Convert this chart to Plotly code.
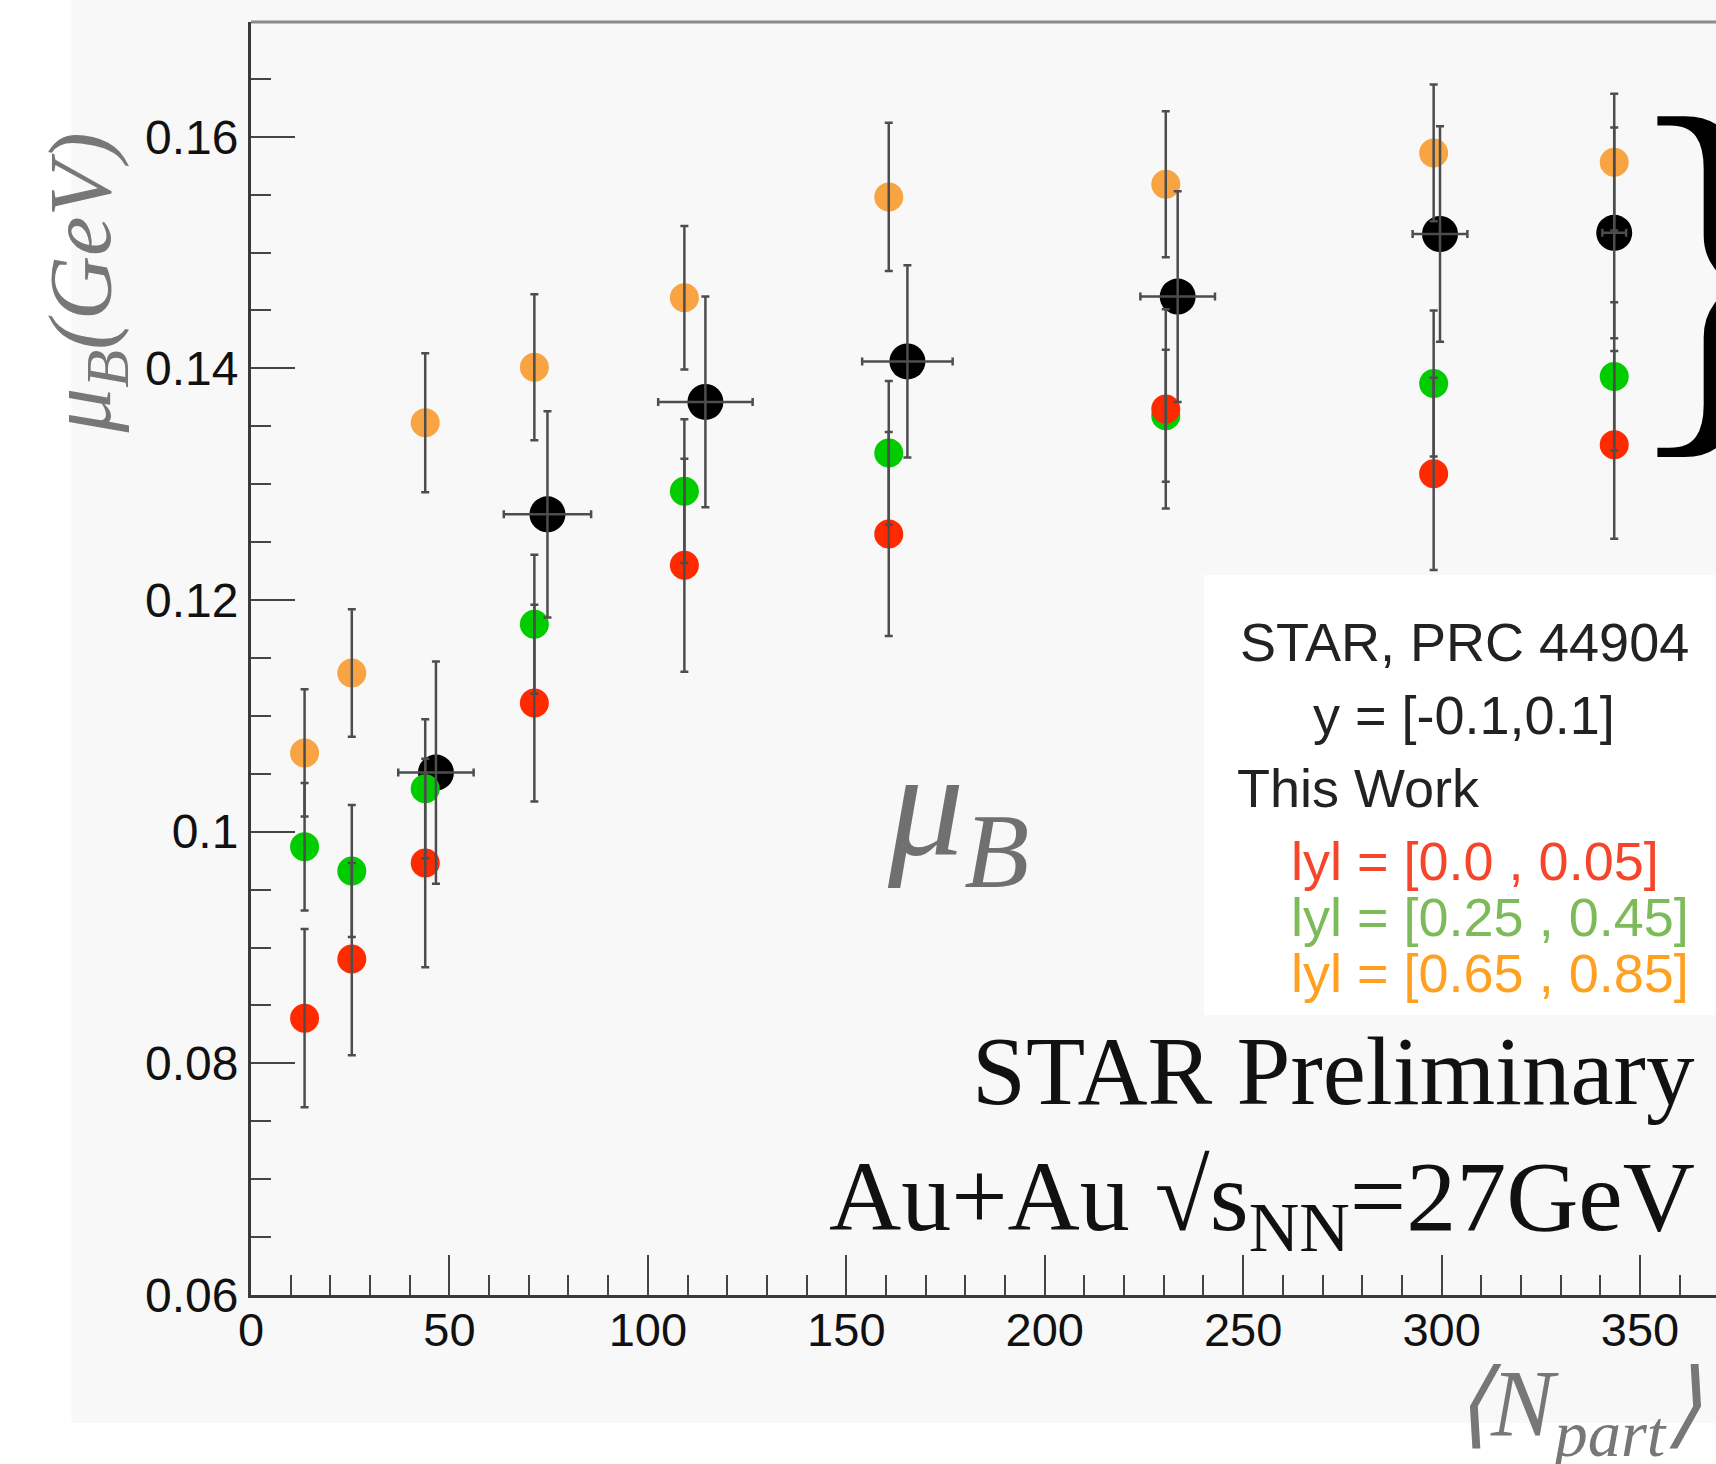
import plotly.graph_objects as go

# ---------------- data ----------------
npart_yl = [13.5, 25.4, 43.9, 71.4, 109.2, 160.7, 230.5, 298.0, 343.5]

mu_red = [0.0839, 0.0890, 0.0973, 0.1111, 0.1230, 0.1257, 0.1365, 0.1309, 0.1334]
err_red = [0.0077, 0.0083, 0.0090, 0.0085, 0.0092, 0.0088, 0.0086, 0.0083, 0.0081]

mu_green = [0.0987, 0.0966, 0.1037, 0.1179, 0.1294, 0.1327, 0.1359, 0.1387, 0.1393]
err_green = [0.0055, 0.0057, 0.0060, 0.0060, 0.0062, 0.0062, 0.0057, 0.0063, 0.0064]

mu_orange = [0.1068, 0.1137, 0.1353, 0.1401, 0.1461, 0.1548, 0.1559, 0.1586, 0.1578]
err_orange = [0.0055, 0.0055, 0.0060, 0.0063, 0.0062, 0.0064, 0.0063, 0.0059, 0.0059]

npart_star = [46.6, 74.7, 114.5, 165.4, 233.5, 299.6, 343.5]
npart_star_err = [9.5, 11.0, 11.9, 11.4, 9.4, 6.9, 3.0]
mu_star = [0.1051, 0.1274, 0.1371, 0.1406, 0.1462, 0.1516, 0.1517]
err_star = [0.0096, 0.0089, 0.0091, 0.0083, 0.0091, 0.0093, 0.0091]

x_tick_vals = [0, 50, 100, 150, 200, 250, 300, 350]
x_tick_text = ["0", "50", "100", "150", "200", "250", "300", "350"]
y_tick_vals = [0.06, 0.08, 0.10, 0.12, 0.14, 0.16]
y_tick_text = ["0.06", "0.08", "0.1", "0.12", "0.14", "0.16"]

legend_lines = ["STAR, PRC 44904", "y = [-0.1,0.1]", "This Work",
                "lyl = [0.0 , 0.05]", "lyl = [0.25 , 0.45]", "lyl = [0.65 , 0.85]"]

# ---------------- figure ----------------
W, H = 1716, 1464
ML, MR, MT, MB = 250.5, 0, 22, 169
PW, PH = W - ML - MR, H - MT - MB


def px(xp):
    return (xp - ML) / PW


def py(yp):
    return (H - MB - yp) / PH


C_BLACK = "#000000"
C_GREEN = "#00cc00"
C_RED = "#ff2a00"
C_ORANGE = "#f9a443"
BAR = "#4d4d4d"

fig = go.Figure()

series = [
    (npart_star, mu_star, C_BLACK, 36),
    (npart_yl, mu_green, C_GREEN, 29),
    (npart_yl, mu_red, C_RED, 29),
    (npart_yl, mu_orange, C_ORANGE, 29),
]
for xs, ys, col, sz in series:
    fig.add_trace(go.Scatter(x=xs, y=ys, mode="markers",
                             marker=dict(color=col, size=sz, line=dict(width=0)),
                             showlegend=False, hoverinfo="skip"))

err_series = [
    (npart_yl, mu_green, err_green, None),
    (npart_yl, mu_red, err_red, None),
    (npart_yl, mu_orange, err_orange, None),
    (npart_star, mu_star, err_star, npart_star_err),
]
for xs, ys, ey, ex in err_series:
    tr = go.Scatter(x=xs, y=ys, mode="markers",
                    marker=dict(size=1, color="rgba(0,0,0,0)"),
                    error_y=dict(type="data", array=ey, color=BAR, thickness=2.5, width=4),
                    showlegend=False, hoverinfo="skip")
    if ex is not None:
        tr.error_x = dict(type="data", array=ex, color=BAR, thickness=2.5, width=4)
    fig.add_trace(tr)

xmax = PW / 3.97
ymax = 0.06 + PH / 11583.0

fig.update_xaxes(range=[0, xmax], showgrid=False, zeroline=False,
                 showline=True, linecolor="#3a3a3a", linewidth=3,
                 ticks="inside", ticklen=40, tickwidth=2, tickcolor="#444",
                 tickvals=x_tick_vals, ticktext=x_tick_text, ticklabelstandoff=-8,
                 tickfont=dict(family="Liberation Sans", size=47, color="#111"),
                 minor=dict(ticks="inside", ticklen=20, tickwidth=2, tickcolor="#444",
                            tick0=0, dtick=10))
fig.update_yaxes(range=[0.06, ymax], showgrid=False, zeroline=False,
                 showline=True, linecolor="#3a3a3a", linewidth=3,
                 ticks="inside", ticklen=44, tickwidth=2, tickcolor="#444",
                 tickvals=y_tick_vals, ticktext=y_tick_text,
                 tickfont=dict(family="Liberation Sans", size=48, color="#111"),
                 minor=dict(ticks="inside", ticklen=20, tickwidth=2, tickcolor="#444",
                            tick0=0.06, dtick=0.005))

shapes = [
    dict(type="rect", xref="paper", yref="paper", x0=px(71), x1=1.0, y0=py(1423), y1=py(0),
         fillcolor="#f8f8f8", line=dict(width=0), layer="below"),
    dict(type="rect", xref="paper", yref="paper", x0=px(1204), x1=1.0, y0=py(1015), y1=py(575),
         fillcolor="#ffffff", line=dict(width=0), layer="below"),
    dict(type="line", xref="paper", yref="paper", x0=0, x1=1, y0=1, y1=1,
         line=dict(color="#8a8a8a", width=3)),
]

ann = []
# y-axis title
ann.append(dict(text="<i>μ<sub>B</sub>(GeV)</i>", xref="paper", yref="paper",
                x=px(85), y=py(283), xanchor="center", yanchor="middle", textangle=-90,
                showarrow=False, font=dict(family="Liberation Serif", size=89, color="#777777")))
# x-axis title
ann.append(dict(text="<i>⟨N<sub>part</sub>⟩</i>", xref="paper", yref="paper",
                x=px(1452), y=py(1410), xanchor="left", yanchor="middle",
                showarrow=False, font=dict(family="Liberation Serif", size=95, color="#777777")))
# big mu_B label
ann.append(dict(text="<i>μ<sub>B</sub></i>", xref="paper", yref="paper",
                x=px(958), y=py(815), xanchor="center", yanchor="middle",
                showarrow=False, font=dict(family="Liberation Serif", size=152, color="#707070")))
# legend texts
leg_cols = ["#222222", "#222222", "#222222", "#f5452a", "#7dbb5a", "#ffa020"]
leg_x = [1464, 1464, 1235, 1289, 1289, 1289]
leg_anchor = ["center", "center", "left", "left", "left", "left"]
leg_y = [642, 715, 788, 861, 917, 973]
for t, c, xx, a, yy in zip(legend_lines, leg_cols, leg_x, leg_anchor, leg_y):
    ann.append(dict(text=t, xref="paper", yref="paper", x=px(xx), y=py(yy),
                    xanchor=a, yanchor="middle", showarrow=False,
                    font=dict(family="Liberation Sans", size=54, color=c)))
# STAR Preliminary and system
ann.append(dict(text="STAR Preliminary", xref="paper", yref="paper",
                x=px(1697), y=py(1071), xanchor="right", yanchor="middle", showarrow=False,
                font=dict(family="Liberation Serif", size=97, color="#111111")))
ann.append(dict(text="Au+Au √s<sub>NN</sub>=27GeV", xref="paper", yref="paper",
                x=px(1697), y=py(1203), xanchor="right", yanchor="middle", showarrow=False,
                font=dict(family="Liberation Serif", size=100, color="#111111")))
# brace
ann.append(dict(text="}", xref="paper", yref="paper",
                x=px(1618), y=py(263), xanchor="left", yanchor="middle", showarrow=False,
                font=dict(family="Liberation Serif", size=412, color="#000000")))

fig.update_layout(width=W, height=H, margin=dict(l=ML, r=MR, t=MT, b=MB),
                  paper_bgcolor="#ffffff", plot_bgcolor="#f8f8f8",
                  shapes=shapes, annotations=ann, showlegend=False)

fig.write_html("out.html")
